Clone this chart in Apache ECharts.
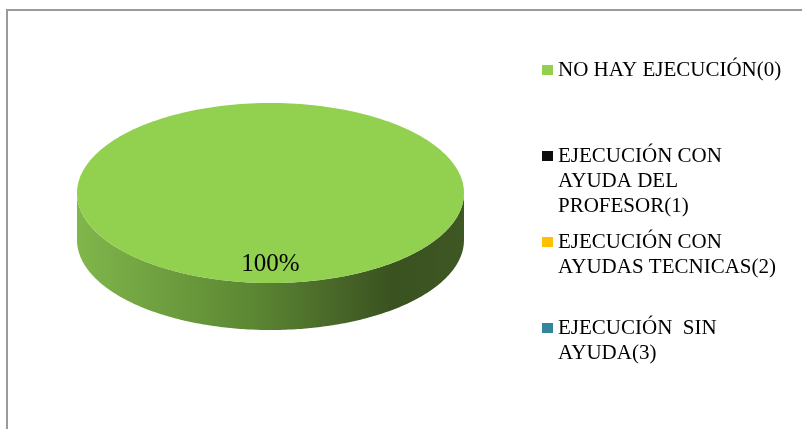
<!DOCTYPE html>
<html><head><meta charset="utf-8">
<script src="https://cdn.jsdelivr.net/npm/echarts@6/dist/echarts.min.js"></script>
<style>
html,body{margin:0;padding:0;background:#fff;}
#frame{position:absolute;left:6px;top:9px;width:900px;height:500px;border-left:2px solid #9a9a9a;border-top:2px solid #9a9a9a;}
#chart{position:absolute;left:0;top:0;width:802px;height:429px;}
</style></head><body>
<div id="frame"></div><div id="chart"></div>
<script>
const categories = ['NO HAY EJECUCIÓN(0)', 'EJECUCIÓN CON AYUDA DEL PROFESOR(1)', 'EJECUCIÓN CON AYUDAS TECNICAS(2)', 'EJECUCIÓN  SIN AYUDA(3)'];
const values = [100, 0, 0, 0];
const colors = ['#92D050', '#0D0D0D', '#FFC000', '#31859C'];
const legendLabels = ['NO HAY EJECUCIÓN(0)', 'EJECUCIÓN CON\nAYUDA DEL\nPROFESOR(1)', 'EJECUCIÓN CON\nAYUDAS TECNICAS(2)', 'EJECUCIÓN  SIN\nAYUDA(3)'];
const legendCenters = [70, 156, 242, 328];

const FONT = "'Liberation Serif', 'Times New Roman', serif";
const total = values.reduce((a, b) => a + b, 0);
const LH = 25;

function makeRender(idx) {
  return function (params, api) {
    const v = api.value(0);
    if (!v) return null;
    const cx = 270.5, cy = 193, rx = 193.5, ry = 90, depth = 47;
    let before = 0;
    for (let i = 0; i < idx; i++) before += values[i];
    const a0 = -Math.PI / 2 + 2 * Math.PI * before / total;
    const a1 = -Math.PI / 2 + 2 * Math.PI * (before + v) / total;
    const full = (v / total) >= 0.99999;
    const N = 240;
    const arc = (s, e, dy) => {
      const pts = [];
      for (let k = 0; k <= N; k++) {
        const t = s + (e - s) * k / N;
        pts.push([cx + rx * Math.cos(t), cy + ry * Math.sin(t) + dy]);
      }
      return pts;
    };
    const children = [];
    const s = Math.max(a0, 0), e = Math.min(a1, Math.PI);
    if (s < e) {
      const topArc = arc(s, e, 0);
      const botArc = arc(e, s, depth);
      children.push({
        type: 'polygon',
        shape: { points: topArc.concat(botArc) },
        style: {
          fill: new echarts.graphic.LinearGradient(0, 0, 1, 0, [
            { offset: 0, color: '#80b64b' },
            { offset: 0.45, color: '#5c8733' },
            { offset: 0.82, color: '#3a5120' },
            { offset: 1, color: '#3e5824' }
          ])
        }
      });
    }
    const topPts = full ? arc(a0, a1, 0) : [[cx, cy]].concat(arc(a0, a1, 0));
    children.push({
      type: 'polygon',
      shape: { points: topPts },
      style: { fill: colors[idx] }
    });
    const mid = (a0 + a1) / 2;
    children.push({
      type: 'text',
      style: {
        text: Math.round(v / total * 100) + '%',
        x: cx + 0.79 * rx * Math.cos(mid),
        y: cy + 0.79 * ry * Math.sin(mid),
        align: 'center',
        verticalAlign: 'middle',
        font: '25px ' + FONT,
        fill: '#000'
      }
    });
    return { type: 'group', children: children };
  };
}

const chart = echarts.init(document.getElementById('chart'));
chart.setOption({
  animation: false,
  backgroundColor: 'transparent',
  legend: categories.map((name, i) => {
    const n = legendLabels[i].split('\n').length;
    return {
      data: [{ name: name, itemStyle: { color: colors[i] } }],
      orient: 'vertical',
      left: 542,
      top: legendCenters[i] - (2 * n - 1) * LH / 2,
      padding: 0,
      itemWidth: 11,
      itemHeight: 10,
      icon: 'rect',
      selectedMode: false,
      formatter: () => '\n'.repeat(n - 1) + legendLabels[i],
      textStyle: {
        fontFamily: FONT,
        fontSize: 21,
        color: '#000',
        lineHeight: LH
      }
    };
  }),
  series: categories.map((name, i) => ({
    type: 'custom',
    name: name,
    coordinateSystem: 'none',
    itemStyle: { color: colors[i] },
    data: [[values[i]]],
    renderItem: makeRender(i)
  }))
});
</script>
</body></html>
